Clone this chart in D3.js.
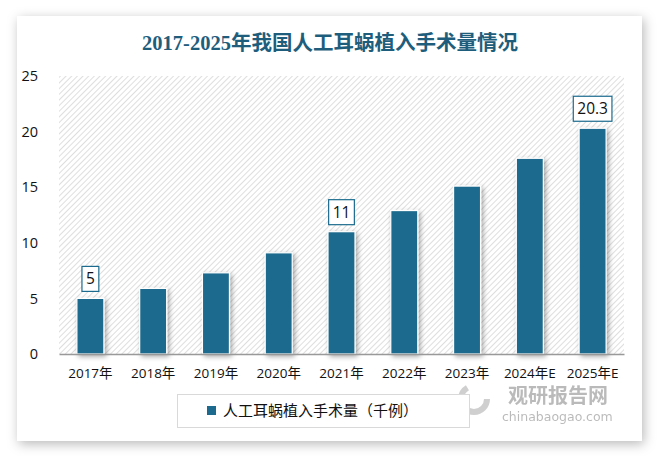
<!DOCTYPE html>
<html>
<head>
<meta charset="utf-8">
<script src="https://cdn.jsdelivr.net/npm/d3@7"></script>
<style>
  body { margin: 0; background: #fff; }
  svg { display: block; }
</style>
</head>
<body>
<script>
const categories = ["2017年", "2018年", "2019年", "2020年", "2021年", "2022年", "2023年", "2024年E", "2025年E"];
const values = [5, 5.9, 7.3, 9.1, 11, 12.9, 15.1, 17.6, 20.3];
const labeled = ["2017年", "2021年", "2025年E"];
const yTicks = [0, 5, 10, 15, 20, 25];
const seriesName = "人工耳蜗植入手术量（千例）";
const title = "2017-2025年我国人工耳蜗植入手术量情况";

const width = 659, height = 456;
const barColor = "#1c6b8e";
const margin = { left: 59, right: 35, top: 76, bottom: 102 };

const svg = d3.select("body").append("svg")
  .attr("width", width)
  .attr("height", height);

const defs = svg.append("defs");
const cardShadow = defs.append("filter").attr("id", "cardShadow")
  .attr("x", "-5%").attr("y", "-5%").attr("width", "110%").attr("height", "115%");
cardShadow.append("feDropShadow")
  .attr("dx", 2).attr("dy", 3).attr("stdDeviation", 6)
  .attr("flood-color", "#000").attr("flood-opacity", 0.28);

const barShadow = defs.append("filter").attr("id", "barShadow")
  .attr("x", "-30%").attr("y", "-10%").attr("width", "160%").attr("height", "130%");
barShadow.append("feDropShadow")
  .attr("dx", 2).attr("dy", 2).attr("stdDeviation", 2.5)
  .attr("flood-color", "#000").attr("flood-opacity", 0.35);

const hatch = defs.append("pattern").attr("id", "hatch")
  .attr("patternUnits", "userSpaceOnUse")
  .attr("width", 4).attr("height", 4)
  .attr("patternTransform", "rotate(45)");
hatch.append("rect").attr("width", 4).attr("height", 4).attr("fill", "#fff");
hatch.append("line").attr("x1", 0).attr("y1", 0).attr("x2", 0).attr("y2", 4)
  .attr("stroke", "#d4d4d4").attr("stroke-width", 1.5);

// card
svg.append("rect")
  .attr("x", 17).attr("y", 16)
  .attr("width", 625).attr("height", 425)
  .attr("fill", "#fff")
  .attr("filter", "url(#cardShadow)");

svg.append("text")
  .attr("x", 330).attr("y", 50)
  .attr("text-anchor", "middle")
  .attr("font-family", "'Liberation Serif', 'Noto Sans CJK SC', serif")
  .attr("font-weight", "bold")
  .attr("font-size", 20.5)
  .attr("fill", "#1e5e7c")
  .text(title);

const x = d3.scaleBand()
  .domain(categories)
  .range([margin.left, width - margin.right])
  .paddingInner(0.57)
  .paddingOuter(0.285);

const y = d3.scaleLinear()
  .domain([0, 25])
  .range([height - margin.bottom, margin.top]);

// plot background
svg.append("rect")
  .attr("x", margin.left).attr("y", margin.top)
  .attr("width", width - margin.right - margin.left)
  .attr("height", y(0) - margin.top)
  .attr("fill", "url(#hatch)");

// watermark (drawn under the axis labels)
const wm = svg.append("g").attr("opacity", 0.4);
wm.append("circle")
  .attr("cx", 474).attr("cy", 399).attr("r", 13)
  .attr("fill", "none").attr("stroke", "#888").attr("stroke-width", 6)
  .attr("stroke-dasharray", "54 28");
wm.append("text")
  .attr("x", 508).attr("y", 403)
  .attr("font-family", "'Noto Sans CJK SC', sans-serif")
  .attr("font-weight", "bold")
  .attr("font-size", 20)
  .attr("fill", "#555")
  .text("观研报告网");
wm.append("text")
  .attr("x", 502).attr("y", 421)
  .attr("font-family", "'DejaVu Sans', sans-serif")
  .attr("font-size", 12.5)
  .attr("fill", "#555")
  .text("chinabaogao.com");

// y axis
const yAxis = svg.append("g")
  .attr("transform", `translate(${margin.left},0)`)
  .call(d3.axisLeft(y).tickValues(yTicks).tickSize(0).tickPadding(21));
yAxis.select(".domain").remove();
yAxis.selectAll("text")
  .attr("font-family", "'Open Sans', sans-serif")
  .attr("font-size", 14.5)
  .attr("fill", "#111");

// bars
svg.append("g")
  .selectAll("rect")
  .data(values)
  .join("rect")
  .attr("x", (d, i) => x(categories[i]))
  .attr("y", d => y(d))
  .attr("width", x.bandwidth())
  .attr("height", d => y(0) - y(d))
  .attr("fill", barColor)
  .attr("stroke", "#fff")
  .attr("stroke-width", 1.2)
  .attr("filter", "url(#barShadow)");

// x axis
const xAxis = svg.append("g")
  .attr("transform", `translate(0,${y(0)})`)
  .call(d3.axisBottom(x).tickSize(0).tickPadding(14));
xAxis.select(".domain").attr("stroke", "#999").attr("stroke-width", 1.5);
xAxis.selectAll("text")
  .attr("font-family", "'Open Sans', 'Noto Sans CJK SC', sans-serif")
  .attr("font-size", 13.5)
  .attr("fill", "#111");

// data labels
const lab = svg.append("g")
  .selectAll("g")
  .data(values.map((v, i) => ({ v, c: categories[i] })).filter(d => labeled.includes(d.c)))
  .join("g")
  .attr("transform", d => `translate(${x(d.c) + x.bandwidth() / 2},${y(d.v) - 19.5})`);
lab.append("text")
  .attr("text-anchor", "middle")
  .attr("dy", "0.36em")
  .attr("font-family", "'Open Sans', sans-serif")
  .attr("font-size", 15.5)
  .attr("fill", "#111")
  .text(d => d.v);
lab.each(function () {
  const g = d3.select(this);
  const bb = g.select("text").node().getBBox();
  g.insert("rect", "text")
    .attr("x", bb.x - 4).attr("y", -12.5)
    .attr("width", bb.width + 8).attr("height", 25)
    .attr("fill", "#fff")
    .attr("stroke", barColor)
    .attr("stroke-width", 1.2);
});

// legend
const legend = svg.append("g");
legend.append("rect")
  .attr("x", 177.5).attr("y", 394.5)
  .attr("width", 292).attr("height", 33)
  .attr("fill", "#fff")
  .attr("stroke", "#d9d9d9");
legend.append("rect")
  .attr("x", 207).attr("y", 406)
  .attr("width", 9).attr("height", 9)
  .attr("fill", barColor);
legend.append("text")
  .attr("x", 223).attr("y", 411)
  .attr("dy", "0.35em")
  .attr("font-family", "'Noto Sans CJK SC', sans-serif")
  .attr("font-size", 15)
  .attr("fill", "#111")
  .text(seriesName);
</script>
</body>
</html>
